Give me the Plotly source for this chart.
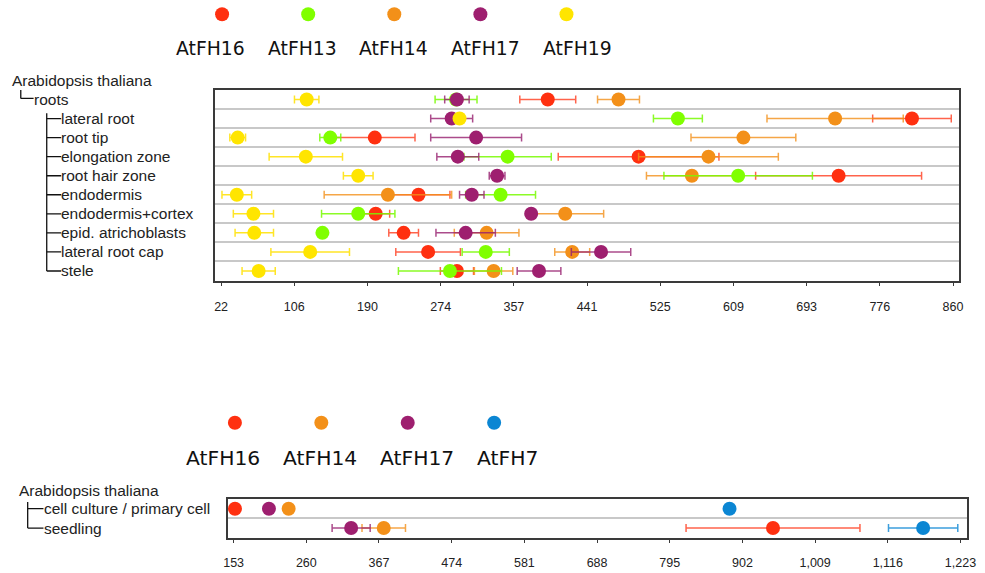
import plotly.graph_objects as go

W, H = 985, 573

# ---------------- data: top panel (roots) ----------------
tissues_top = ["roots", "lateral root", "root tip", "elongation zone", "root hair zone",
               "endodermis", "endodermis+cortex", "epid. atrichoblasts", "lateral root cap", "stele"]
legend_top = ["AtFH16", "AtFH13", "AtFH14", "AtFH17", "AtFH19"]

fh16_top = [396, 813, 198, 500, 729, 248, 199, 231, 259, 292]
fh16_top_err = [32, 45, 46, 92, 95, 36, 16, 17, 37, 19]
fh13_top = [291, 545, 147, 350, 614, 342, 179, 138, 325, 284]
fh13_top_err = [24, 28, 12, 50, 85, 40, 42, 3, 27, 59]
fh14_top = [477, 725, 620, 580, 561, 213, 416, 326, 424, 334]
fh14_top_err = [24, 78, 60, 80, 52, 73, 44, 37, 20, 22]
fh17_top = [292, 286, 314, 293, 338, 309, 377, 302, 457, 386]
fh17_top_err = [14, 24, 52, 24, 9, 14, 5, 34, 34, 25]
fh19_top = [120, 295, 41, 119, 179, 40, 59, 60, 124, 65]
fh19_top_err = [14, 4, 9, 42, 17, 17, 23, 22, 45, 19]

ticks_top = [22, 105.8, 189.6, 273.4, 357.2, 441, 524.8, 608.6, 692.4, 776.2, 860]
ticklabels_top = ["22", "106", "190", "274", "357", "441", "525", "609", "693", "776", "860"]

# ---------------- data: bottom panel ----------------
tissues_bot = ["cell culture / primary cell", "seedling"]
legend_bot = ["AtFH16", "AtFH14", "AtFH17", "AtFH7"]

fh16_bot = [155, 947]
fh16_bot_err = [0, 128]
fh14_bot = [234, 374]
fh14_bot_err = [0, 32]
fh17_bot = [205, 326]
fh17_bot_err = [0, 28]
fh7_bot = [883, 1168]
fh7_bot_err = [0, 51]

ticks_bot = [153, 260, 367, 474, 581, 688, 795, 902, 1009, 1116, 1223]
ticklabels_bot = ["153", "260", "367", "474", "581", "688", "795", "902", "1,009", "1,116", "1,223"]

organism = "Arabidopsis thaliana"

colors = {
    "AtFH16": "#ff3010",
    "AtFH13": "#80ff00",
    "AtFH14": "#f39019",
    "AtFH17": "#9e1f6f",
    "AtFH19": "#ffe500",
    "AtFH7": "#0b86d3",
}
errcolors = {
    "AtFH16": "rgba(255,60,30,0.8)",
    "AtFH13": "rgba(120,250,0,0.85)",
    "AtFH14": "rgba(243,144,25,0.8)",
    "AtFH17": "rgba(150,30,110,0.8)",
    "AtFH19": "rgba(255,225,0,0.85)",
    "AtFH7": "rgba(11,134,211,0.8)",
}

fig = go.Figure()

def add_series(name, xs, errs, xa, ya):
    fig.add_trace(go.Scatter(
        x=xs, y=list(range(len(xs))), mode="markers", name=name,
        xaxis=xa, yaxis=ya,
        marker=dict(color=colors[name], size=14, line=dict(width=0)),
        error_x=dict(type="data", array=errs, visible=True, color=errcolors[name],
                     thickness=1.5, width=4),
        showlegend=False, hoverinfo="x+name",
    ))

# top panel, drawing order
add_series("AtFH16", fh16_top, fh16_top_err, "x", "y")
add_series("AtFH14", fh14_top, fh14_top_err, "x", "y")
add_series("AtFH13", fh13_top, fh13_top_err, "x", "y")
add_series("AtFH17", fh17_top, fh17_top_err, "x", "y")
add_series("AtFH19", fh19_top, fh19_top_err, "x", "y")

# bottom panel
add_series("AtFH16", fh16_bot, fh16_bot_err, "x2", "y2")
add_series("AtFH14", fh14_bot, fh14_bot_err, "x2", "y2")
add_series("AtFH17", fh17_bot, fh17_bot_err, "x2", "y2")
add_series("AtFH7", fh7_bot, fh7_bot_err, "x2", "y2")

# legend markers
fig.add_trace(go.Scatter(x=list(range(len(legend_top))), y=[0] * len(legend_top), mode="markers",
                         xaxis="x3", yaxis="y3", showlegend=False, hoverinfo="skip", cliponaxis=False,
                         marker=dict(color=[colors[n] for n in legend_top], size=14, line=dict(width=0))))
fig.add_trace(go.Scatter(x=list(range(len(legend_bot))), y=[0] * len(legend_bot), mode="markers",
                         xaxis="x4", yaxis="y4", showlegend=False, hoverinfo="skip", cliponaxis=False,
                         marker=dict(color=[colors[n] for n in legend_bot], size=14, line=dict(width=0))))

annotations = []
shapes = []

# legend texts
for i, n in enumerate(legend_top):
    annotations.append(dict(text=n, x=(172 + 93 * i) / W, y=1 - 48.3 / H, xref="paper", yref="paper",
                            xanchor="left", yanchor="middle", showarrow=False,
                            font=dict(family="DejaVu Sans", size=18.8, color="#111")))
for i, n in enumerate(legend_bot):
    annotations.append(dict(text=n, x=(182.5 + 98.3 * i) / W, y=1 - 457.5 / H, xref="paper", yref="paper",
                            xanchor="left", yanchor="middle", showarrow=False,
                            font=dict(family="DejaVu Sans", size=20.3, color="#111")))

lab_font = dict(family="Liberation Sans, Arial", size=15.5, color="#222")

# top tree labels
annotations.append(dict(text=organism, x=6 / W, y=1 - 81 / H, xref="paper", yref="paper",
                        xanchor="left", yanchor="middle", showarrow=False, font=lab_font))
for i, t in enumerate(tissues_top):
    xpos = 28 if i == 0 else 56
    annotations.append(dict(text=t, x=xpos / W, y=i, xref="paper", yref="y",
                            xanchor="left", yanchor="middle", showarrow=False, font=lab_font))
# bottom tree labels
annotations.append(dict(text=organism, x=13 / W, y=1 - 490 / H, xref="paper", yref="paper",
                        xanchor="left", yanchor="middle", showarrow=False, font=lab_font))
for i, t in enumerate(tissues_bot):
    annotations.append(dict(text=t, x=38.5 / W, y=i, xref="paper", yref="y2",
                            xanchor="left", yanchor="middle", showarrow=False, font=lab_font))

tree_line = dict(color="#111", width=1.3)
# top tree
shapes.append(dict(type="line", xref="paper", yref="y", x0=17 / W, x1=17 / W, y0=-0.6, y1=-0.06, line=tree_line))
shapes.append(dict(type="line", xref="paper", yref="y", x0=17 / W, x1=30 / W, y0=-0.06, y1=-0.06, line=tree_line))
shapes.append(dict(type="line", xref="paper", yref="y", x0=43.3 / W, x1=43.3 / W, y0=0.72, y1=len(tissues_top) - 1,
                   line=tree_line))
for i in range(1, len(tissues_top)):
    shapes.append(dict(type="line", xref="paper", yref="y", x0=43.3 / W, x1=58 / W, y0=i, y1=i, line=tree_line))
# bottom tree
shapes.append(dict(type="line", xref="paper", yref="y2", x0=24 / W, x1=24 / W, y0=-0.35, y1=len(tissues_bot) - 1,
                   line=tree_line))
for i in range(len(tissues_bot)):
    shapes.append(dict(type="line", xref="paper", yref="y2", x0=24 / W, x1=40 / W, y0=i, y1=i, line=tree_line))

frame = dict(showline=True, mirror=True, linecolor="#3a3a3a", linewidth=1.5, zeroline=False)
tickfont = dict(family="Liberation Sans, Arial", size=12.5, color="#222")

fig.update_layout(
    width=W, height=H, autosize=False,
    margin=dict(l=0, r=0, t=0, b=0, pad=0),
    paper_bgcolor="white", plot_bgcolor="white",
    showlegend=False,
    annotations=annotations, shapes=shapes,
    xaxis=dict(domain=[214 / W, 968 / W], range=[15.22, 867.1], tickvals=ticks_top, ticktext=ticklabels_top,
               ticks="outside", ticklen=4, tickcolor="#3a3a3a", tickwidth=1.2, showgrid=False,
               tickfont=tickfont, ticklabelstandoff=10, anchor="y", **frame),
    yaxis=dict(domain=[1 - 280.5 / H, 1 - 90 / H], range=[len(tissues_top) - 0.5, -0.5],
               tickvals=[i + 0.5 for i in range(len(tissues_top) - 1)], showticklabels=False, ticks="",
               showgrid=True, gridcolor="#c8c8c8", gridwidth=1.5, anchor="x", **frame),
    xaxis2=dict(domain=[226.7 / W, 975.7 / W], range=[144.3, 1232.3], tickvals=ticks_bot, ticktext=ticklabels_bot,
                ticks="outside", ticklen=4, tickcolor="#3a3a3a", tickwidth=1.2, showgrid=False,
                tickfont=tickfont, ticklabelstandoff=9, anchor="y2", **frame),
    yaxis2=dict(domain=[1 - 537.7 / H, 1 - 499 / H], range=[len(tissues_bot) - 0.5, -0.5],
                tickvals=[i + 0.5 for i in range(len(tissues_bot) - 1)], showticklabels=False, ticks="",
                showgrid=True, gridcolor="#c8c8c8", gridwidth=1.5, anchor="x2", **frame),
    xaxis3=dict(domain=[221 / W, 570 / W], range=[0, len(legend_top) - 1], visible=False, anchor="y3"),
    yaxis3=dict(domain=[1 - 24.3 / H, 1 - 4.3 / H], range=[-1, 1], visible=False, anchor="x3"),
    xaxis4=dict(domain=[234 / W, 496.7 / W], range=[0, len(legend_bot) - 1], visible=False, anchor="y4"),
    yaxis4=dict(domain=[1 - 432.7 / H, 1 - 412.7 / H], range=[-1, 1], visible=False, anchor="x4"),
)

# remove the default page margin so the figure fills the window exactly
post = "document.body.style.margin='0';document.documentElement.style.overflow='hidden';"
fig.write_html("out.html", post_script=post)
